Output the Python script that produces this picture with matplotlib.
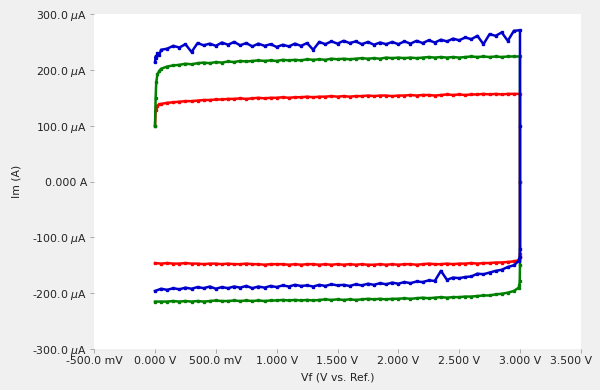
import numpy as np
import matplotlib
matplotlib.use('Agg')
import matplotlib.pyplot as plt
from matplotlib.transforms import ScaledTranslation

# forward sweep potentials (V)
v_fwd = [0.0, 0.005, 0.01, 0.02, 0.035,
         0.05, 0.1, 0.15, 0.2, 0.25, 0.3, 0.35, 0.4, 0.45, 0.5,
         0.55, 0.6, 0.65, 0.7, 0.75, 0.8, 0.85, 0.9, 0.95, 1.0,
         1.05, 1.1, 1.15, 1.2, 1.25, 1.3, 1.35, 1.4, 1.45, 1.5,
         1.55, 1.6, 1.65, 1.7, 1.75, 1.8, 1.85, 1.9, 1.95, 2.0,
         2.05, 2.1, 2.15, 2.2, 2.25, 2.3, 2.35, 2.4, 2.45, 2.5,
         2.55, 2.6, 2.65, 2.7, 2.75, 2.8, 2.85, 2.9, 2.95, 3.0]

# reverse sweep potentials (V)
v_rev = [3.0, 3.0, 2.998, 2.995, 2.99,
         2.95, 2.9, 2.85, 2.8, 2.75, 2.7, 2.65, 2.6, 2.55, 2.5,
         2.45, 2.4, 2.35, 2.3, 2.25, 2.2, 2.15, 2.1, 2.05, 2.0,
         1.95, 1.9, 1.85, 1.8, 1.75, 1.7, 1.65, 1.6, 1.55, 1.5,
         1.45, 1.4, 1.35, 1.3, 1.25, 1.2, 1.15, 1.1, 1.05, 1.0,
         0.95, 0.9, 0.85, 0.8, 0.75, 0.7, 0.65, 0.6, 0.55, 0.5,
         0.45, 0.4, 0.35, 0.3, 0.25, 0.2, 0.15, 0.1, 0.05, 0.0]

# currents in uA
blue_fwd = [214, 224, 221, 230, 227,
            236, 238, 243, 240, 246, 232, 248, 244, 247, 243,
            249, 245, 250, 244, 248, 242, 247, 243, 246, 241,
            245, 242, 247, 243, 248, 236, 250, 246, 251, 247,
            252, 248, 251, 246, 250, 245, 249, 246, 250, 246,
            251, 247, 252, 248, 253, 249, 254, 251, 256, 253,
            258, 255, 261, 246, 264, 261, 267, 252, 270, 271]
blue_rev = [100, -120, -135, -138, -142,
            -150, -153, -158, -160, -163, -166, -165, -170, -171, -173,
            -172, -176, -160, -178, -177, -180, -179, -182, -180, -183,
            -181, -184, -182, -185, -183, -186, -184, -187, -185, -186,
            -184, -187, -185, -188, -186, -187, -185, -188, -186, -189,
            -187, -190, -188, -191, -187, -190, -188, -191, -189, -192,
            -188, -191, -189, -192, -190, -193, -191, -194, -192, -196]

green_fwd = [100, 150, 178, 192, 198,
             202, 206, 208, 209, 211, 210, 212, 213, 212, 214,
             213, 215, 214, 216, 215, 216, 217, 216, 217, 216,
             218, 217, 218, 217, 219, 218, 219, 218, 220, 219,
             220, 219, 220, 221, 220, 221, 220, 222, 221, 222,
             221, 222, 221, 222, 223, 222, 223, 222, 223, 222,
             223, 224, 223, 224, 223, 224, 223, 224, 224, 224]
green_rev = [0, -150, -178, -186, -190,
             -196, -199, -201, -202, -204, -204, -205, -206, -206, -207,
             -207, -208, -207, -208, -209, -208, -209, -210, -209, -210,
             -210, -211, -210, -211, -210, -211, -212, -211, -212, -211,
             -212, -211, -212, -213, -212, -213, -212, -213, -212, -213,
             -213, -214, -213, -214, -213, -214, -213, -214, -214, -213,
             -214, -215, -214, -215, -214, -215, -214, -215, -215, -215]

red_fwd = [100, 128, 133, 136, 138,
           139, 141, 142, 143, 144, 144, 145, 146, 146, 147,
           147, 148, 148, 149, 148, 149, 150, 149, 150, 150,
           151, 150, 151, 151, 152, 151, 152, 152, 153, 152,
           153, 152, 153, 153, 154, 153, 154, 154, 153, 154,
           154, 155, 154, 155, 155, 154, 155, 156, 155, 156,
           155, 156, 156, 157, 156, 157, 156, 157, 157, 157]
red_rev = [0, -130, -136, -139, -141,
           -143, -144, -145, -145, -146, -146, -147, -146, -147, -147,
           -148, -147, -148, -148, -147, -148, -149, -148, -148, -149,
           -148, -149, -148, -149, -149, -148, -149, -148, -149, -148,
           -149, -148, -149, -148, -148, -149, -148, -149, -148, -148,
           -148, -149, -148, -148, -147, -148, -148, -147, -148, -147,
           -147, -148, -147, -147, -146, -147, -147, -146, -147, -146]

x_ticks = [-0.5, 0.0, 0.5, 1.0, 1.5, 2.0, 2.5, 3.0, 3.5]
x_labels = ['-500.0 mV', '0.000 V', '500.0 mV', '1.000 V', '1.500 V',
            '2.000 V', '2.500 V', '3.000 V', '3.500 V']
y_ticks = [-300, -200, -100, 0, 100, 200, 300]
y_labels = ['-300.0 $\\mu$A', '-200.0 $\\mu$A', '-100.0 $\\mu$A', '0.000 A',
            '100.0 $\\mu$A', '200.0 $\\mu$A', '300.0 $\\mu$A']

fig = plt.figure(figsize=(6, 3.9), dpi=100, facecolor='#f0f0f0')
ax = fig.add_axes([0.157, 0.105, 0.811, 0.859])
ax.set_facecolor('white')

series = [(red_fwd, red_rev, '#ff0000'),
          (green_fwd, green_rev, '#008000'),
          (blue_fwd, blue_rev, '#0000cc')]
for fwd, rev, col in series:
    x = v_fwd + v_rev
    y = fwd + rev
    ax.plot(x, y, color=col, lw=1.8, marker='s', ms=1.5, mec=col, mfc=col)

ax.set_xlim(-0.5, 3.5)
ax.set_ylim(-300, 300)
ax.set_xticks(x_ticks, x_labels)
ax.set_yticks(y_ticks, y_labels)
for s in ax.spines.values():
    s.set_visible(False)
ax.tick_params(axis='both', length=3, width=0.6, color='#a0a0a0',
               labelsize=7.8, labelcolor='#222222', pad=2)
ax.set_xlabel('Vf (V vs. Ref.)', fontsize=7.8, color='#222222', labelpad=5)
ax.set_ylabel('Im (A)', fontsize=7.8, color='#222222', labelpad=8)

# last x label sits a bit left so it stays inside the figure
last = ax.get_xticklabels()[-1]
last.set_transform(last.get_transform() + ScaledTranslation(-0.1, 0, fig.dpi_scale_trans))

fig.savefig('out.png', dpi=100, facecolor=fig.get_facecolor())
